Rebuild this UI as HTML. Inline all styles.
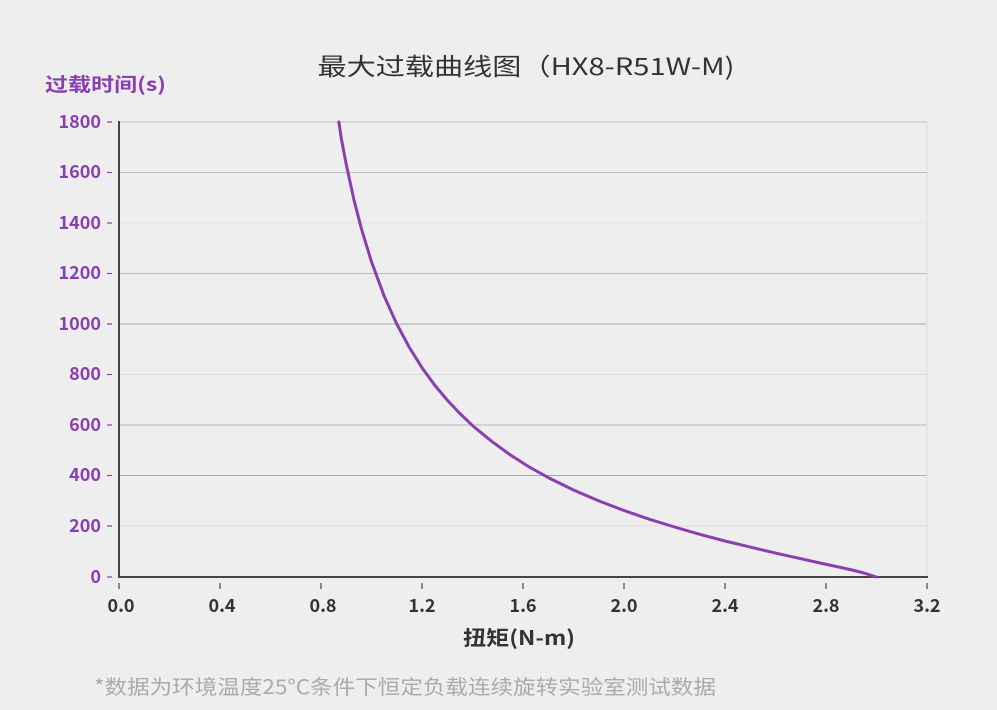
<!DOCTYPE html>
<html><head><meta charset="utf-8"><style>
html,body{margin:0;padding:0;background:#eeeeee;}
svg{display:block;}
text{font-family:"Noto Sans CJK SC","Liberation Sans",sans-serif;}
</style></head><body>
<svg width="997" height="710" viewBox="0 0 997 710" xmlns="http://www.w3.org/2000/svg">
<rect width="997" height="710" fill="#eeeeee"/>
<text x="526" y="75" font-size="24" fill="#333" text-anchor="middle" textLength="417" lengthAdjust="spacingAndGlyphs">最大过载曲线图（HX8-R51W-M)</text>
<text x="45" y="91" font-size="19" font-weight="bold" fill="#8a3fb0" textLength="121" lengthAdjust="spacingAndGlyphs">过载时间(s)</text>
<g stroke-width="1">
<line x1="119" y1="122" x2="927" y2="122" stroke="#bdbdbd"/>
<line x1="119" y1="172.5" x2="927" y2="172.5" stroke="#bdbdbd"/>
<line x1="119" y1="223" x2="927" y2="223" stroke="#e4e4e4"/>
<line x1="119" y1="273.5" x2="927" y2="273.5" stroke="#b8b8b8"/>
<line x1="119" y1="324" x2="927" y2="324" stroke="#a8a8a8"/>
<line x1="119" y1="374.5" x2="927" y2="374.5" stroke="#dcdcdc"/>
<line x1="119" y1="425" x2="927" y2="425" stroke="#b5b5b5"/>
<line x1="119" y1="475.5" x2="927" y2="475.5" stroke="#ababab"/>
<line x1="119" y1="526" x2="927" y2="526" stroke="#dcdcdc"/>
<line x1="927" y1="122" x2="927" y2="577" stroke="#dcdcdc"/>
</g>
<line x1="119" y1="121" x2="119" y2="578" stroke="#444" stroke-width="2"/>
<line x1="118" y1="577" x2="928" y2="577" stroke="#444" stroke-width="2"/>
<g fill="#8a3fb0" font-size="18" font-weight="bold" text-anchor="end">
<text x="101" y="128">1800</text><text x="101" y="178">1600</text><text x="101" y="229">1400</text>
<text x="101" y="279">1200</text><text x="101" y="330">1000</text><text x="101" y="380">800</text>
<text x="101" y="431">600</text><text x="101" y="481">400</text><text x="101" y="532">200</text>
<text x="101" y="583">0</text>
</g>
<g stroke="#8a3fb0" stroke-width="1.2">
<line x1="107" y1="122" x2="112" y2="122"/><line x1="107" y1="172.5" x2="112" y2="172.5"/><line x1="107" y1="223" x2="112" y2="223"/>
<line x1="107" y1="273.5" x2="112" y2="273.5"/><line x1="107" y1="324" x2="112" y2="324"/><line x1="107" y1="374.5" x2="112" y2="374.5"/>
<line x1="107" y1="425" x2="112" y2="425"/><line x1="107" y1="475.5" x2="112" y2="475.5"/><line x1="107" y1="526" x2="112" y2="526"/>
<line x1="107" y1="577" x2="112" y2="577"/>
</g>
<g stroke="#444" stroke-width="1.2">
<line x1="119" y1="583" x2="119" y2="589"/><line x1="220" y1="583" x2="220" y2="589"/><line x1="321" y1="583" x2="321" y2="589"/>
<line x1="422" y1="583" x2="422" y2="589"/><line x1="523" y1="583" x2="523" y2="589"/><line x1="624" y1="583" x2="624" y2="589"/>
<line x1="725" y1="583" x2="725" y2="589"/><line x1="826" y1="583" x2="826" y2="589"/><line x1="927" y1="583" x2="927" y2="589"/>
</g>
<g fill="#333" font-size="18" font-weight="bold" text-anchor="middle">
<text x="121" y="612">0.0</text><text x="222" y="612">0.4</text><text x="323" y="612">0.8</text>
<text x="422" y="612">1.2</text><text x="523" y="612">1.6</text><text x="624" y="612">2.0</text>
<text x="725" y="612">2.4</text><text x="826" y="612">2.8</text><text x="927" y="612">3.2</text>
</g>
<text x="463" y="645" font-size="20" font-weight="bold" fill="#333" textLength="112" lengthAdjust="spacingAndGlyphs">扭矩(N-m)</text>
<text x="94" y="694" font-size="20" fill="#aaa" textLength="622" lengthAdjust="spacingAndGlyphs">*数据为环境温度25°C条件下恒定负载连续旋转实验室测试数据</text>
<polyline points="338.9,122 341.2,137.9 346.25,164.5 353.8,199.1 361.4,228.7 371.5,261.8 384.1,295.9 396.75,324 409.4,347.5 422,367.7 434.6,385 447.25,400.1 459.9,413.5 472.5,425.6 491.5,441.2 510.4,455 529.3,467 548.25,477.6 573.5,490 598.75,500.9 624,510.5 649.25,519.2 674.5,527 699.75,534.3 725,541 750.25,547.1 775.5,553.1 800.75,558.7 820,563 838.6,567 852,570 863.9,573 876.5,577" fill="none" stroke="#8a3fb0" stroke-width="3" stroke-linecap="round" stroke-linejoin="round"/>
</svg>
</body></html>
